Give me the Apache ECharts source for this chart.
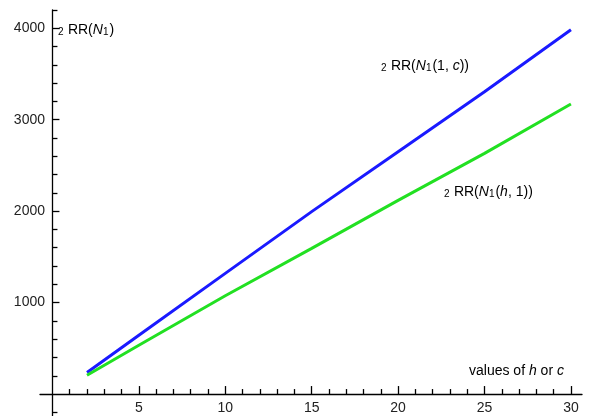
<!DOCTYPE html>
<html>
<head>
<meta charset="utf-8">
<script src="https://cdn.jsdelivr.net/npm/echarts@6/dist/echarts.min.js"></script>
<style>
  html, body { margin: 0; padding: 0; background: #fff; }
  #chart { width: 590px; height: 416px; }
</style>
</head>
<body>
<div id="chart"></div>
<script>
// values of h (or c)
const xValues = [2, 5, 10, 15, 20, 25, 30];
// 2RR(N1(1, c))
const rrOneC = [235, 643, 1320, 1995, 2650, 3306, 3985];
// 2RR(N1(h, 1))
const rrHOne = [205, 533, 1075, 1593, 2118, 2632, 3172];

const xMajorTicks = [5, 10, 15, 20, 25, 30];
const xMinorTicks = [1, 2, 3, 4, 6, 7, 8, 9, 11, 12, 13, 14, 16, 17, 18, 19, 21, 22, 23, 24, 26, 27, 28, 29];
const yMajorTicks = [1000, 2000, 3000, 4000];
const yMinorTicks = [-200, 200, 400, 600, 800, 1200, 1400, 1600, 1800, 2200, 2400, 2600, 2800, 3200, 3400, 3600, 3800, 4200];

const FONT = '"Liberation Sans", Arial, sans-serif';
const X_MIN = -0.72, X_MAX = 30.64, Y_MIN = -240, Y_MAX = 4200;

function pairs(xs, ys) { return xs.map((x, i) => [x, ys[i]]); }

const axisLineStyle = { color: '#000', width: 1.3 };
const plain = v => String(v);

// The axis lines cross at the origin; tick labels are placed from the grid
// edge, so their margins pull them back next to the crossing lines.
function xAxisDef(ticks, len, showLine, showLabel) {
  return {
    type: 'value', min: X_MIN, max: X_MAX, position: 'bottom',
    axisLine: { show: showLine, onZero: true, lineStyle: axisLineStyle },
    axisTick: { show: true, inside: true, length: len, customValues: ticks, lineStyle: { color: '#000', width: 1.3 } },
    axisLabel: { show: showLabel, customValues: ticks, formatter: plain, color: '#222', fontFamily: FONT, fontSize: 14, margin: -15 },
    splitLine: { show: false }
  };
}
function yAxisDef(ticks, len, showLine, showLabel) {
  return {
    type: 'value', min: Y_MIN, max: Y_MAX, position: 'left',
    axisLine: { show: showLine, onZero: true, lineStyle: axisLineStyle },
    axisTick: { show: true, inside: true, length: len, customValues: ticks, lineStyle: { color: '#000', width: 1.3 } },
    axisLabel: { show: showLabel, customValues: ticks, formatter: plain, color: '#222', fontFamily: FONT, fontSize: 14, margin: -5 },
    splitLine: { show: false }
  };
}

const chart = echarts.init(document.getElementById('chart'), null, { renderer: 'canvas' });

const richBase = {
  n: { fontFamily: FONT, fontSize: 14, verticalAlign: 'bottom', lineHeight: 17 },
  i: { fontFamily: FONT, fontSize: 14, fontStyle: 'italic', verticalAlign: 'bottom', lineHeight: 17 },
  s: { fontFamily: FONT, fontSize: 10, verticalAlign: 'bottom', lineHeight: 17, padding: [0, 1, 0, 0] }
};
function richFor(color) {
  const r = {};
  Object.keys(richBase).forEach(k => { r[k] = Object.assign({}, richBase[k], { color: color }); });
  return r;
}

chart.setOption({
  animation: false,
  backgroundColor: '#fff',
  grid: { left: 40, right: 8, top: 10, bottom: 0, containLabel: false, outerBoundsMode: 'none' },
  xAxis: [
    xAxisDef(xMajorTicks, 8, true, true),
    xAxisDef(xMinorTicks, 5, false, false)
  ],
  yAxis: [
    yAxisDef(yMajorTicks, 7, true, true),
    yAxisDef(yMinorTicks, 5, false, false)
  ],
  series: [
    {
      name: 'RR(N1(1, c))', type: 'line', xAxisIndex: 0, yAxisIndex: 0,
      data: pairs(xValues, rrOneC), showSymbol: false,
      lineStyle: { color: '#1a1aff', width: 3 }
    },
    {
      name: 'RR(N1(h, 1))', type: 'line', xAxisIndex: 0, yAxisIndex: 0,
      data: pairs(xValues, rrHOne), showSymbol: false,
      lineStyle: { color: '#22e022', width: 3 }
    }
  ],
  graphic: [
    {
      type: 'text', left: 58, top: 23,
      style: { text: '{s|2} {n|RR(}{i|N}{s|1}{n|)}', rich: richFor('#222') }
    },
    {
      type: 'text', left: 381, top: 59,
      style: { text: '{s|2} {n|RR(}{i|N}{s|1}{n|(1, }{i|c}{n|))}', rich: richFor('#2a2aee') }
    },
    {
      type: 'text', left: 444, top: 185,
      style: { text: '{s|2} {n|RR(}{i|N}{s|1}{n|(}{i|h}{n|, 1))}', rich: richFor('#2a7d2a') }
    },
    {
      type: 'text', left: 469, top: 364,
      style: { text: '{n|values of }{i|h}{n| or }{i|c}', rich: richFor('#222') }
    }
  ]
});
</script>
</body>
</html>
